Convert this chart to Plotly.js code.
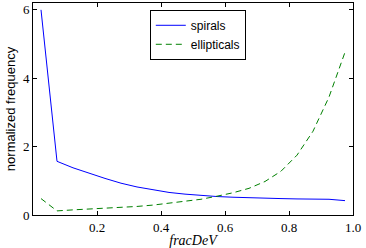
<!DOCTYPE html>
<html>
<head>
<meta charset="utf-8">
<script src="https://cdn.plot.ly/plotly-3.0.1.min.js"></script>
<style>html,body{margin:0;padding:0;background:#fff;}#chart{width:366px;height:248px;}</style>
</head>
<body>
<div id="chart"></div>
<script>
const fracDeV = [0.025,0.075,0.125,0.175,0.225,0.275,0.325,0.375,0.425,0.475,0.525,0.575,0.625,0.675,0.725,0.775,0.825,0.875,0.925,0.975];
const spirals = [6.0,1.57,1.38,1.22,1.07,0.93,0.82,0.74,0.66,0.61,0.57,0.54,0.52,0.50,0.49,0.48,0.47,0.47,0.46,0.42];
const ellipticals = [0.48,0.12,0.15,0.17,0.19,0.22,0.25,0.29,0.34,0.39,0.46,0.55,0.65,0.78,0.98,1.28,1.75,2.45,3.45,4.76];
const xTicks = [0.2,0.4,0.6,0.8,1.0];
const xTickText = ['0.2','0.4','0.6','0.8','1.0'];
const yTicks = [0,2,4,6];

const tickFont = {family:'"Liberation Serif", serif', size:13, color:'#000'};
const data = [
  {x:fracDeV, y:spirals, mode:'lines', name:'spirals', line:{color:'#0000ff', width:1}},
  {x:fracDeV, y:ellipticals, mode:'lines', name:'ellipticals', line:{color:'#008000', width:1, dash:'6px,4px'}}
];
const layout = {
  width:366, height:248,
  margin:{l:33, r:13, t:3, b:33},
  paper_bgcolor:'#fff', plot_bgcolor:'#fff',
  showlegend:true,
  legend:{x:0.515, y:0.968, xanchor:'center', yanchor:'top', bordercolor:'#000', borderwidth:1,
          bgcolor:'#fff', font:{family:'"Liberation Sans", Arial, sans-serif', size:12, color:'#000'},
          itemwidth:30, tracegroupgap:0},
  xaxis:{range:[0,1], tickvals:xTicks, ticktext:xTickText, ticks:'inside', ticklen:4, tickcolor:'#000',
         showline:true, linecolor:'#000', linewidth:1, mirror:'allticks', showgrid:false, zeroline:false,
         tickfont:tickFont,
         title:{text:'fracDeV', font:{family:'"Liberation Serif", serif', size:14, color:'#000', style:'italic'}, standoff:0}},
  yaxis:{range:[0,6.2], tickvals:yTicks, ticks:'inside', ticklen:4, tickcolor:'#000',
         showline:true, linecolor:'#000', linewidth:1, mirror:'allticks', showgrid:false, zeroline:false,
         tickfont:tickFont,
         title:{text:'normalized frequency', font:{family:'"Liberation Sans", Arial, sans-serif', size:13, color:'#000'}, standoff:4}}
};
Plotly.newPlot('chart', data, layout, {staticPlot:true, displayModeBar:false});
</script>
</body>
</html>
